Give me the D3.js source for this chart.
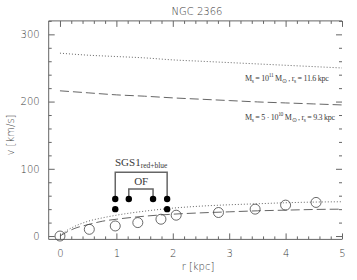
<!DOCTYPE html>
<html>
<head>
<meta charset="utf-8">
<script src="https://cdn.jsdelivr.net/npm/d3@7"></script>
<style>
  body { margin: 0; background: #fff; }
  svg text { fill: #3a3a3a; }
</style>
</head>
<body>
<div id="chart"></div>
<script>
// observed rotation curve (open circles)
var obsR = [0, 0.52, 0.98, 1.38, 1.79, 2.06, 2.81, 3.46, 4.0, 4.54];
var obsV = [0, 10, 15, 20, 25, 31, 35, 40, 46, 50];

// SGS1 / outflow velocities (filled dots)
var dotR = [0.98, 1.22, 1.65, 1.9, 0.98, 1.9];
var dotV = [55, 55, 55, 55, 40, 40];

// model curves
var modelR = [0, 0.5, 1, 1.5, 2, 2.5, 3, 3.5, 4, 4.5, 5];
var escHeavy = [272, 269, 267, 265, 262, 260, 258, 256, 254, 252, 250];   // dotted, top
var escLight = [216, 213, 210, 208, 205.5, 203.5, 201.5, 199.5, 198, 196.5, 195]; // dashed, top

var rotR = [0, 0.1, 0.25, 0.5, 0.75, 1, 1.5, 2, 2.5, 3, 3.5, 4, 4.5, 5];
var rotHeavy = [0, 7, 14, 22, 27, 31, 37, 41.5, 44.5, 46.5, 48, 49.5, 50.5, 51];
var rotLight = [0, 5, 11, 17, 22, 25, 29.5, 32.5, 34.5, 36, 37.5, 38.5, 39.5, 40];

var xTicks = [0, 1, 2, 3, 4, 5];
var yTicks = [0, 100, 200, 300];

const width = 357, height = 280;
const frameColor = "#666";

const svg = d3.select("#chart").append("svg")
    .attr("width", width)
    .attr("height", height);

const x = d3.scaleLinear().domain([-0.2, 5]).range([48.7, 342]);
const y = d3.scaleLinear().domain([-5, 320]).range([239.4, 20.9]);

const x0 = x.range()[0], x1 = x.range()[1];
const y0 = y.range()[0], y1 = y.range()[1];

// minor tick values
const xMinor = d3.range(0, 5.01, 0.2).map(d => +d.toFixed(1)).filter(d => xTicks.indexOf(d) < 0);
const yMinor = d3.range(0, 321, 20).filter(d => yTicks.indexOf(d) < 0);

function tickGroup(axis, tx, ty) {
    const g = svg.append("g")
        .attr("transform", `translate(${tx},${ty})`)
        .call(axis);
    g.select(".domain").remove();
    g.selectAll("line").attr("stroke", frameColor).attr("stroke-width", 1);
    return g;
}

// bottom axis
tickGroup(d3.axisBottom(x).tickValues(xMinor).tickSize(-3).tickFormat(""), 0, y0);
const bx = tickGroup(d3.axisBottom(x).tickValues(xTicks).tickSize(-6).tickPadding(11)
    .tickFormat(d3.format("d")), 0, y0);
bx.selectAll("text").style("font-family", "DejaVu Sans").style("font-size", "10px")
    .style("font-weight", "200");

// top axis
tickGroup(d3.axisTop(x).tickValues(xMinor).tickSize(-3).tickFormat(""), 0, y1);
tickGroup(d3.axisTop(x).tickValues(xTicks).tickSize(-6).tickFormat(""), 0, y1);

// left axis
tickGroup(d3.axisLeft(y).tickValues(yMinor).tickSize(-3).tickFormat(""), x0, 0);
const ly = tickGroup(d3.axisLeft(y).tickValues(yTicks).tickSize(-6).tickPadding(9)
    .tickFormat(d3.format("d")), x0, 0);
ly.selectAll("text").style("font-family", "DejaVu Sans").style("font-size", "10px")
    .style("font-weight", "200");

// right axis (ticks only)
tickGroup(d3.axisRight(y).tickValues(yMinor).tickSize(-3).tickFormat(""), x1, 0);
tickGroup(d3.axisRight(y).tickValues(yTicks).tickSize(-6).tickFormat(""), x1, 0);

// frame: left, top, bottom
svg.append("path")
    .attr("d", `M${x1},${y1}H${x0}V${y0}H${x1}`)
    .attr("fill", "none")
    .attr("stroke", frameColor)
    .attr("stroke-width", 1);

// title and axis labels
svg.append("text")
    .attr("x", 197).attr("y", 15)
    .attr("text-anchor", "middle")
    .style("font-family", "DejaVu Sans").style("font-size", "10px").style("font-weight", "200")
    .text("NGC 2366");

svg.append("text")
    .attr("x", 198).attr("y", 270)
    .attr("text-anchor", "middle")
    .style("font-family", "DejaVu Sans").style("font-size", "10px").style("font-weight", "200")
    .text("r [kpc]");

svg.append("text")
    .attr("transform", "translate(14,135) rotate(-90)")
    .attr("text-anchor", "middle")
    .style("font-family", "DejaVu Sans").style("font-size", "10px").style("font-weight", "200")
    .text("v [km/s]");

// model curves
const line = d3.line().x(d => x(d[0])).y(d => y(d[1]));

function drawCurve(rs, vs, dash) {
    svg.append("path")
        .datum(rs.map((r, i) => [r, vs[i]]))
        .attr("d", line.curve(d3.curveMonotoneX))
        .attr("fill", "none")
        .attr("stroke", "#555")
        .attr("stroke-width", 0.9)
        .attr("stroke-dasharray", dash);
}

drawCurve(modelR, escHeavy, "1,2");
drawCurve(modelR, escLight, "9,4");
drawCurve(rotR, rotHeavy, "1,2");
drawCurve(rotR, rotLight, "9,4");

// model labels
function modelLabel(yPos, coef, rs) {
    const t = svg.append("text")
        .attr("x", 245).attr("y", yPos)
        .style("font-family", "Liberation Serif").style("font-size", "8px")
        .style("letter-spacing", "-0.3px");
    t.append("tspan").text("M");
    t.append("tspan").attr("font-size", "5.5px").attr("dy", 2).text("s");
    t.append("tspan").attr("dy", -2).text(" = " + coef + "10");
    t.append("tspan").attr("font-size", "5.5px").attr("dy", -4).text(coef ? "10" : "11");
    t.append("tspan").attr("dy", 4).text(" M");
    t.append("tspan").attr("font-size", "5.5px").attr("dy", 2).text("\u2299");
    t.append("tspan").attr("dy", -2).text(" , r");
    t.append("tspan").attr("font-size", "5.5px").attr("dy", 2).text("s");
    t.append("tspan").attr("dy", -2).text(" = " + rs + " kpc");
}
modelLabel(81, "", "11.6");
modelLabel(120, "5 \u00b7 ", "9.3");

// brackets for SGS1 and OF
function bracket(ra, rb, vTop, vBot) {
    svg.append("path")
        .attr("d", `M${x(ra)},${y(vBot)}V${y(vTop)}H${x(rb)}V${y(vBot)}`)
        .attr("fill", "none")
        .attr("stroke", "#666")
        .attr("stroke-width", 1.5);
}
bracket(0.98, 1.9, 95, 58);
bracket(1.22, 1.65, 70, 58);

const sgs = svg.append("text")
    .attr("x", x(1.44)).attr("y", 166)
    .attr("text-anchor", "middle")
    .style("font-family", "Liberation Serif").style("font-size", "11px");
sgs.append("tspan").text("SGS1");
sgs.append("tspan").attr("font-size", "7.5px").attr("dy", 2).text("red+blue");

svg.append("text")
    .attr("x", x(1.44)).attr("y", 185)
    .attr("text-anchor", "middle")
    .style("font-family", "Liberation Serif").style("font-size", "11px")
    .text("OF");

// filled dots
svg.selectAll(".dot")
    .data(dotR.map((r, i) => [r, dotV[i]]))
    .enter()
    .append("circle")
    .attr("class", "dot")
    .attr("cx", d => x(d[0]))
    .attr("cy", d => y(d[1]))
    .attr("r", 3.2)
    .attr("fill", "#000");

// open circles
svg.selectAll(".obs")
    .data(obsR.map((r, i) => [r, obsV[i]]))
    .enter()
    .append("circle")
    .attr("class", "obs")
    .attr("cx", d => x(d[0]))
    .attr("cy", d => y(d[1]))
    .attr("r", 5)
    .attr("fill", "none")
    .attr("stroke", "#444")
    .attr("stroke-width", 0.8);
</script>
</body>
</html>
